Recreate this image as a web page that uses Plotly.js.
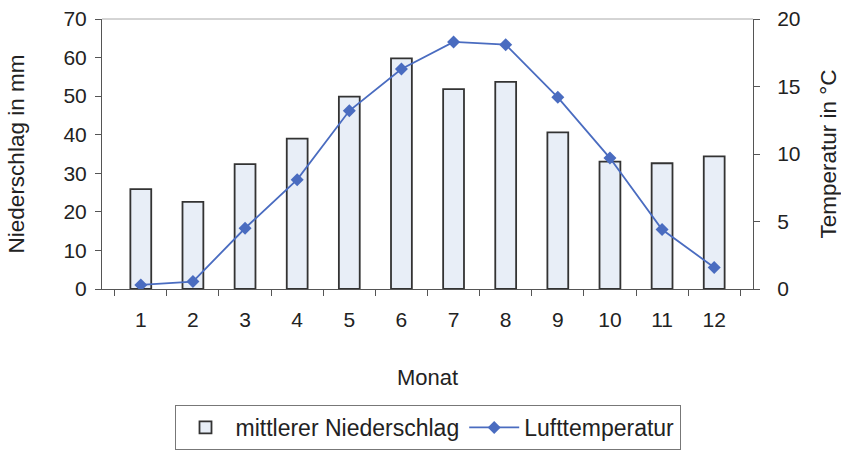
<!DOCTYPE html>
<html><head><meta charset="utf-8">
<script src="https://cdn.plot.ly/plotly-3.0.1.min.js"></script>
<style>body{margin:0;background:#fff}#c{width:841px;height:450px}</style>
</head><body><div id="c"></div>
<script>
const months = ['1','2','3','4','5','6','7','8','9','10','11','12'];
const niederschlag = [25.9, 22.6, 32.4, 39.0, 49.9, 59.8, 51.8, 53.7, 40.6, 33.0, 32.6, 34.4];
const temperatur = [0.3, 0.55, 4.5, 8.1, 13.2, 16.3, 18.3, 18.1, 14.2, 9.7, 4.4, 1.6];

const font = {family: 'Liberation Sans, Arial, sans-serif', size: 21, color: '#222'};
const data = [
  {type: 'bar', x: months, y: niederschlag, name: 'mittlerer Niederschlag',
   marker: {color: '#e8eef7', line: {color: '#333', width: 1.8}}, yaxis: 'y'},
  {type: 'scatter', mode: 'lines+markers', x: months, y: temperatur, name: 'Lufttemperatur',
   line: {color: '#4a6cc0', width: 1.8}, marker: {symbol: 'diamond', size: 10, color: '#4a6cc0'}, yaxis: 'y2'}
];
const layout = {
  width: 841, height: 450,
  margin: {l: 102, r: 88, t: 19, b: 161},
  paper_bgcolor: '#fff', plot_bgcolor: '#fff',
  font: font, bargap: 0.6, showlegend: true,
  xaxis: {type: 'category', tickson: 'boundaries', ticks: 'outside', ticklen: 6, tickcolor: '#555',
    ticklabelstandoff: 12, automargin: false,
    showline: true, linecolor: '#555', linewidth: 1, showgrid: false, zeroline: false,
    title: {text: 'Monat', font: {size: 22}, standoff: 39}},
  yaxis: {range: [0, 70], dtick: 10, ticks: 'outside', ticklen: 6, tickcolor: '#555',
    ticklabelstandoff: 4, automargin: false,
    showline: true, linecolor: '#555', showgrid: false, zeroline: false,
    title: {text: 'Niederschlag in mm', font: {size: 22.5}, standoff: 32}},
  yaxis2: {range: [0, 20], dtick: 5, overlaying: 'y', side: 'right', ticks: 'outside', ticklen: 6, tickcolor: '#555',
    ticklabelstandoff: 13, automargin: false,
    showline: true, linecolor: '#555', showgrid: false, zeroline: false,
    title: {text: 'Temperatur in °C', font: {size: 22.5}, standoff: 20}},
  shapes: [{type: 'line', xref: 'paper', yref: 'paper', x0: 0, x1: 1, y0: 1, y1: 1, line: {color: '#aaa', width: 1}}],
  legend: {orientation: 'h', x: 0.5, xanchor: 'center', yref: 'container', y: 0.1, yanchor: 'top',
    bordercolor: '#777', borderwidth: 1, font: {size: 23}, itemwidth: 50}
};
Plotly.newPlot('c', data, layout, {displayModeBar: false, staticPlot: true});
</script></body></html>
